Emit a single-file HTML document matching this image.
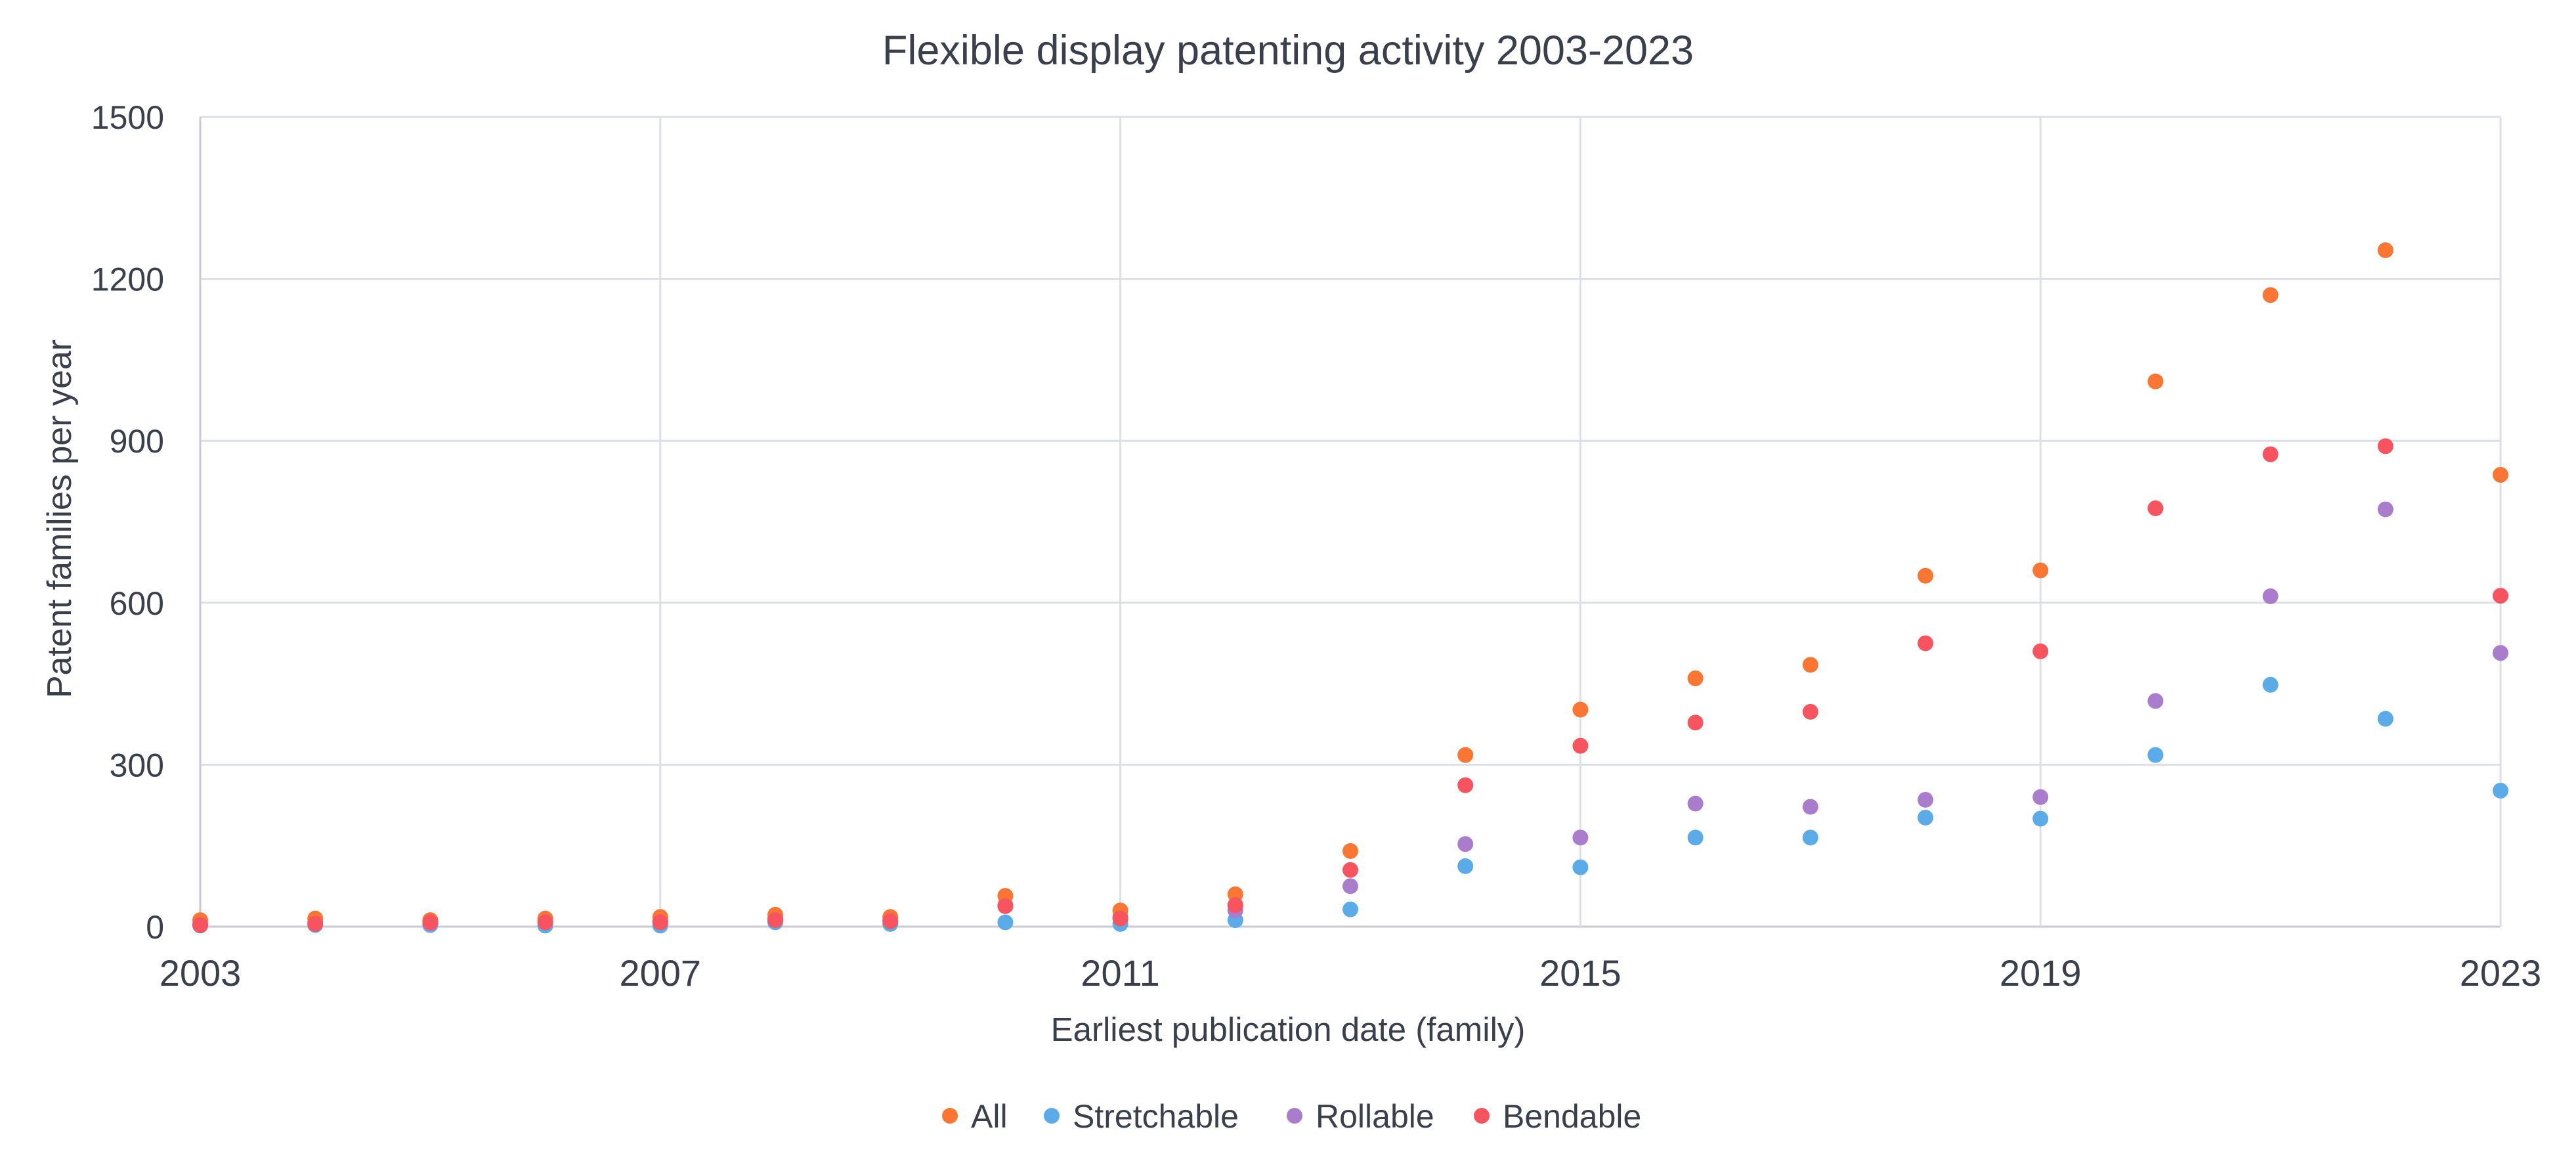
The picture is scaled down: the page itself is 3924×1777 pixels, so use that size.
<!DOCTYPE html>
<html><head><meta charset="utf-8"><style>
html,body{margin:0;padding:0;background:#fff;}
svg{display:block;font-family:"Liberation Sans",sans-serif;}
</style></head><body>
<svg id="chart" width="3924" height="1777" viewBox="0 0 3924 1777">
<text x="1962" y="98" text-anchor="middle" font-size="63" fill="#3a3f4b">Flexible display patenting activity 2003-2023</text>
<g id="grid"></g><g id="axes"></g><g id="marks"></g>
<text x="1962" y="1585" text-anchor="middle" font-size="51" fill="#3a3f4b">Earliest publication date (family)</text>
<text transform="translate(108,790) rotate(-90)" text-anchor="middle" font-size="52" fill="#3a3f4b">Patent families per year</text>
<g id="legend"></g>
</svg>
<script>
const years=[2003,2004,2005,2006,2007,2008,2009,2010,2011,2012,2013,2014,2015,2016,2017,2018,2019,2020,2021,2022,2023];
const allVals=[12,15,12,15,18,22,18,57,30,60,140,318,402,460,485,650,660,1010,1170,1253,837];
const stretchVals=[2,3,3,2,2,8,5,8,5,12,32,112,110,165,165,202,200,318,448,385,252];
const rollVals=[5,8,6,10,10,15,12,40,18,30,75,153,165,228,222,235,240,418,612,773,507];
const bendVals=[3,5,8,8,8,12,10,38,15,40,105,262,335,378,398,525,510,775,875,890,613];
const yTicks=[0,300,600,900,1200,1500];
const xTicks=[2003,2007,2011,2015,2019,2023];
const seriesNames=["All","Stretchable","Rollable","Bendable"];
const seriesColors=["#fb7533","#5aabe8","#a97ccc","#f8545f"];
const NS="http://www.w3.org/2000/svg";
const L=305,R=3809,T=178,B=1411;
const xs=v=>L+(v-2003)/20*(R-L);
const ys=v=>B-v/1500*(B-T);
function mk(tag,attrs,parent){const e=document.createElementNS(NS,tag);for(const k in attrs)e.setAttribute(k,attrs[k]);document.getElementById(parent).appendChild(e);return e;}
yTicks.forEach(t=>{
 const l=mk('line',{x1:L,x2:R,y1:ys(t),y2:ys(t),stroke:t===0?'#c8c9d2':'#dedfe6','stroke-width':3},'grid');
 
 
 const tx=mk('text',{x:250,y:ys(t)+18,'text-anchor':'end','font-size':50,fill:'#3a3f4b'},'axes');
 tx.textContent=t;
 
 
});
xTicks.forEach(t=>{
 const l=mk('line',{x1:xs(t),x2:xs(t),y1:T,y2:B,stroke:t===2003?'#c8c9d2':'#dedfe6','stroke-width':3},'grid');
 
 
 const tx=mk('text',{x:xs(t),y:1501,'text-anchor':'middle','font-size':56,fill:'#3a3f4b'},'axes');
 tx.textContent=t;
 
 
});
const data=[allVals,stretchVals,rollVals,bendVals];
[1,2,0,3].forEach(si=>{
 data[si].forEach((v,i)=>{
  const c=mk('circle',{cx:xs(years[i]),cy:ys(v),r:12,fill:seriesColors[si]},'marks');
  
  
 });
});
const legX=[1447,1602,1972,2257];
seriesNames.forEach((n,i)=>{
 const c=mk('circle',{cx:legX[i],cy:1699,r:12,fill:seriesColors[i]},'legend');
 
 
 const t=mk('text',{x:legX[i]+32,y:1717,'font-size':50,fill:'#3a3f4b'},'legend');
 t.textContent=n;
 
 
});
</script>
</body></html>
